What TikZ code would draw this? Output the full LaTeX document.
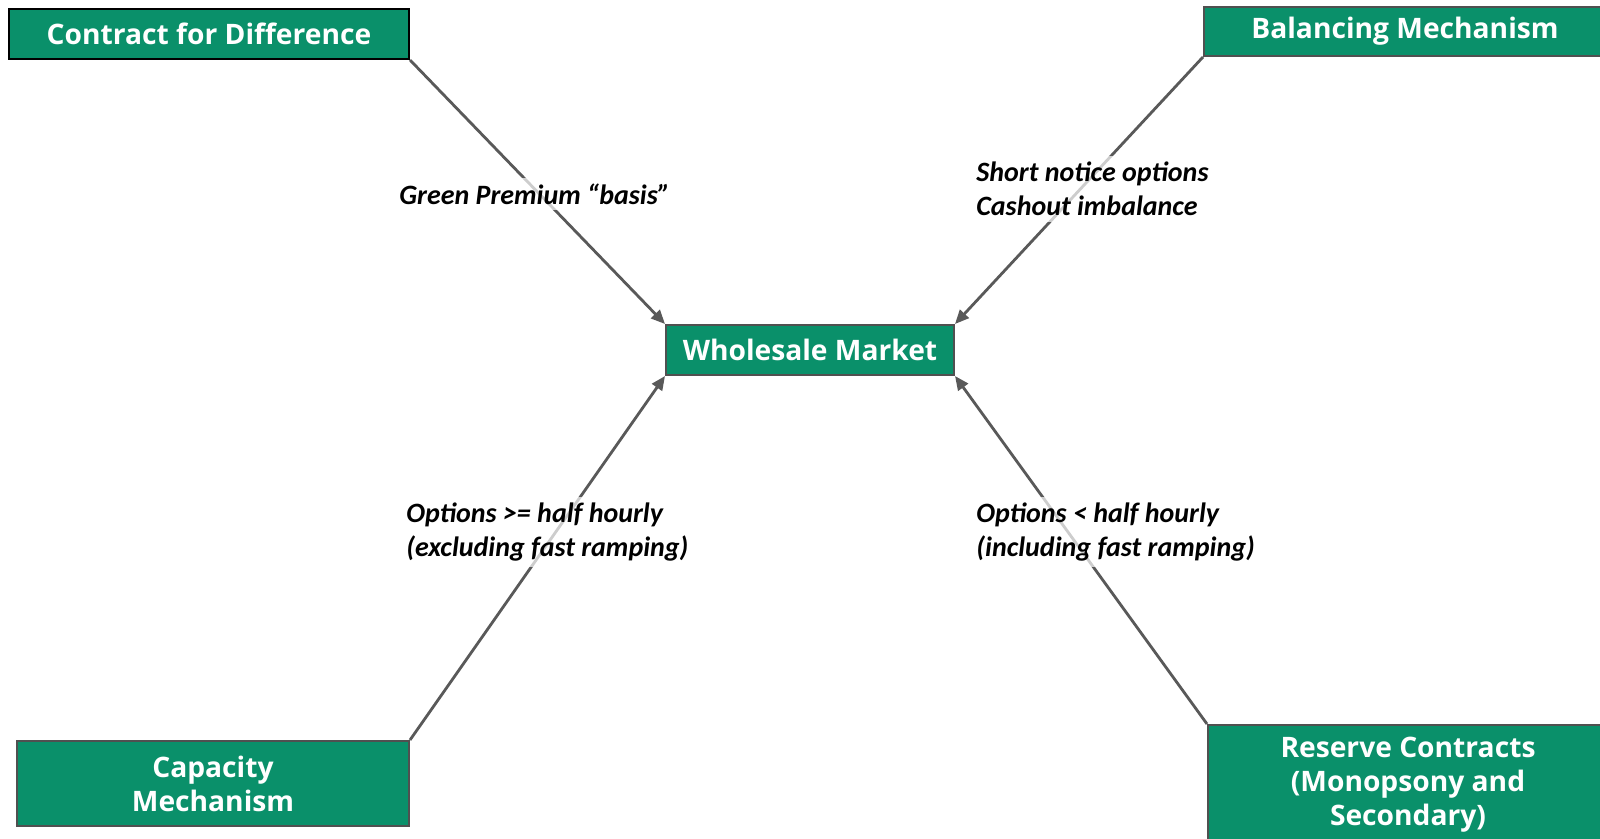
\documentclass[tikz,border=0pt]{standalone}
\usepackage{fontspec}
\setmainfont{Open Sans}
\newfontfamily\labelfont{Carlito}
\usepackage{tikz}
\usetikzlibrary{arrows.meta}
\definecolor{boxgreen}{RGB}{10,144,106}
\definecolor{boxedge}{RGB}{80,80,80}
\definecolor{linkgray}{RGB}{89,89,89}
\tikzset{market/.style={draw=boxedge,line width=1pt,fill=boxgreen,text=white,
   align=center,inner sep=0pt,font=\fontsize{14.1}{17}\selectfont\bfseries},
 link/.style={draw=linkgray,line width=1.4pt,-{Triangle[length=7pt,width=6pt]}},
 note/.style={anchor=west,align=left,inner sep=3pt,fill=white,fill opacity=0.7,
   text opacity=1,font=\labelfont\fontsize{14}{17}\selectfont\bfseries\itshape},
 }

\begin{document}
\begin{tikzpicture}[x=0.5pt,y=-0.5pt]
        \clip (0,0) rectangle (1600,839);
        \fill[white] (0,0) rectangle (1600,839);
        % the five markets
        \node[market,draw=black,minimum width=200pt,minimum height=25pt] (cfd) at (209,34) {Contract for Difference};
        \node[market,minimum width=201pt,minimum height=24.5pt] (balancing) at (1405,31.5) {Balancing Mechanism};
        \node[market,minimum width=144pt,minimum height=25pt] (wholesale) at (810,350) {Wholesale Market};
        \node[market,minimum width=196pt,minimum height=42.5pt] (capacity) at (213,783.5) {Capacity\\Mechanism};
        \node[market,minimum width=200pt,minimum height=60pt] (reserve) at (1408,785) {Reserve Contracts\\(Monopsony and\\Secondary)};
        % connectors
        \draw[link] (cfd.south east) -- (wholesale.north west);
        \draw[link] (balancing.south west) -- (wholesale.north east);
        \draw[link] (capacity.north east) -- (wholesale.south west);
        \draw[link] (reserve.north west) -- (wholesale.south east);
        % labels
        \node[note] (cfdnote) at (393,194) {Green Premium “basis”};
        \node[note] (balnote) at (970,189) {Short notice options\\Cashout imbalance};
        \node[note] (capnote) at (400,532) {Options >= half hourly\\(excluding fast ramping)};
        \node[note] (resnote) at (970,532) {Options < half hourly\\(including fast ramping)};
    \end{tikzpicture}
\end{document}
